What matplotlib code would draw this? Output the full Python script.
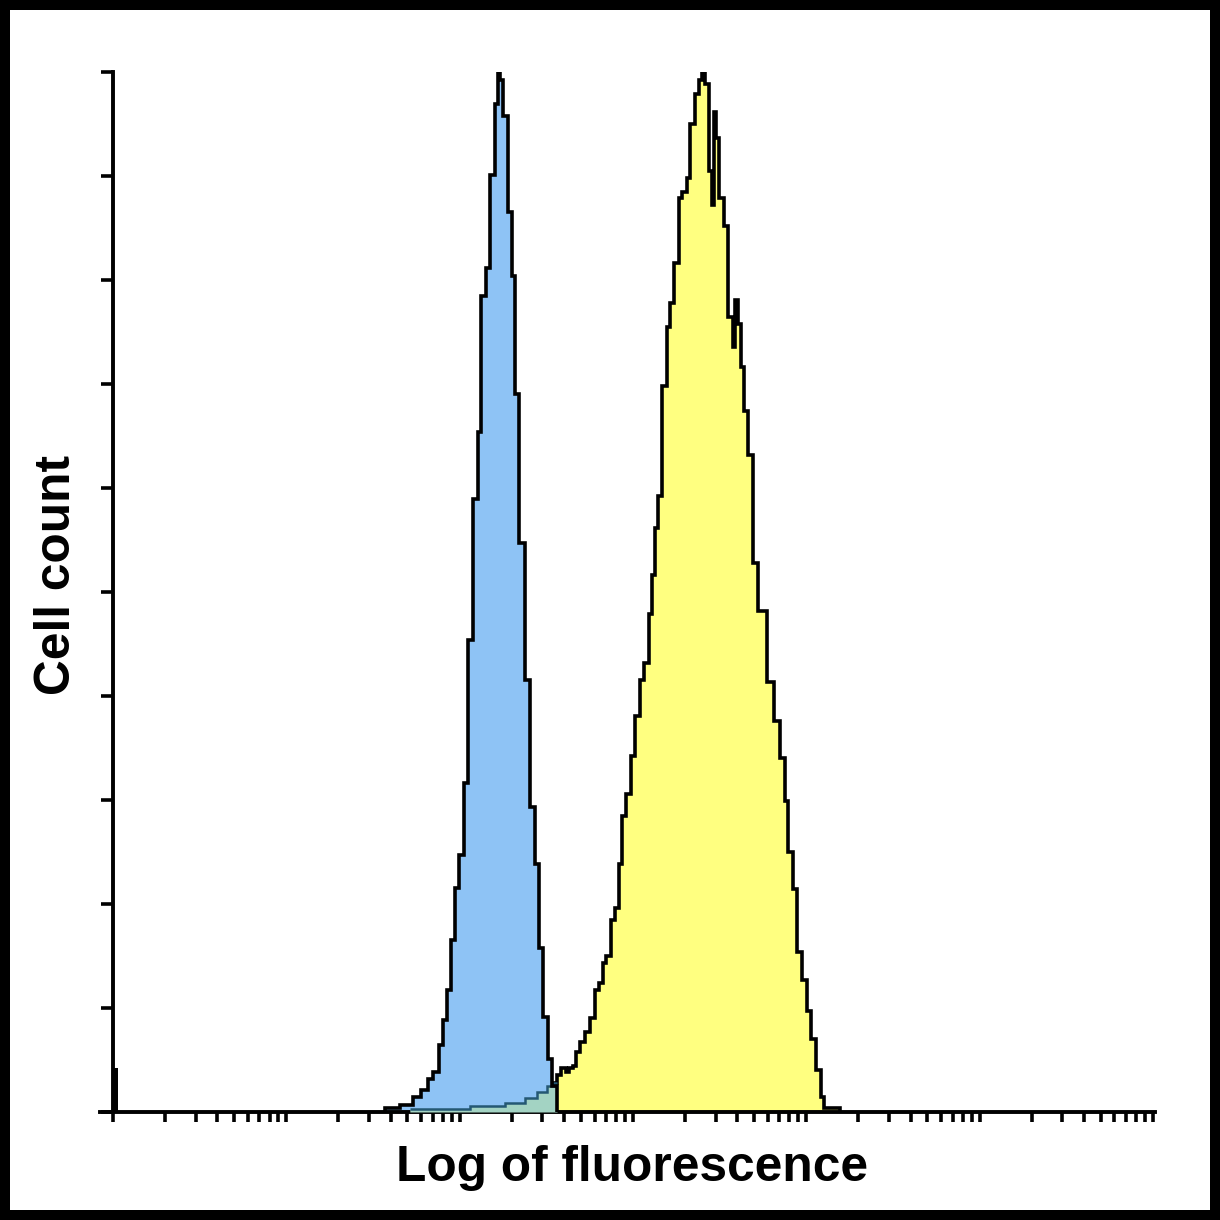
import numpy as np
import matplotlib.pyplot as plt
from matplotlib.patches import Rectangle
from matplotlib.ticker import FixedLocator, NullFormatter

# histogram data: bin edges in log10(fluorescence), counts scaled so the highest bin = 100
blue_log_edges = [1.569, 1.656, 1.731, 1.777, 1.817, 1.846, 1.881, 1.904, 1.927, 1.950,
                  1.973, 1.996, 2.025, 2.048, 2.077, 2.106, 2.123, 2.152, 2.175, 2.204,
                  2.221, 2.233, 2.250, 2.279, 2.302, 2.319, 2.342, 2.377, 2.406, 2.435,
                  2.458, 2.481, 2.510, 2.533, 2.562]
blue_counts = [0.4, 0.7, 1.4, 2.1, 3.2, 3.8, 6.4, 8.8, 11.7, 16.5,
               21.5, 24.7, 31.6, 45.4, 58.9, 65.4, 78.5, 81.2, 90.1, 96.9,
               100, 99.2, 95.8, 86.5, 80.4, 69.0, 54.7, 41.5, 29.3, 23.8,
               15.8, 9.1, 5.1, 2.5]

yellow_log_edges = [1.713, 2.060, 2.262, 2.377, 2.446, 2.504, 2.544, 2.562, 2.585, 2.614,
                    2.631, 2.654, 2.671, 2.694, 2.723, 2.752, 2.781, 2.804, 2.827, 2.844,
                    2.873, 2.896, 2.919, 2.937, 2.960, 2.989, 3.012, 3.040, 3.063, 3.092,
                    3.110, 3.127, 3.144, 3.167, 3.196, 3.214, 3.237, 3.265, 3.283, 3.312,
                    3.329, 3.358, 3.381, 3.398, 3.415, 3.439, 3.456, 3.467, 3.479, 3.496,
                    3.525, 3.548, 3.577, 3.589, 3.606, 3.623, 3.640, 3.663, 3.692, 3.721,
                    3.773, 3.814, 3.848, 3.877, 3.894, 3.923, 3.946, 3.975, 4.004, 4.027,
                    4.056, 4.085, 4.102, 4.194]
yellow_counts = [0.3, 0.6, 0.9, 1.3, 1.9, 2.5, 2.8, 3.6, 4.2, 3.8,
                 4.2, 4.4, 5.8, 6.7, 7.7, 9.0, 11.7, 12.4, 14.3, 15.0,
                 18.5, 19.6, 23.8, 28.5, 30.6, 34.2, 38.1, 41.5, 43.2, 47.9,
                 51.6, 56.2, 59.2, 69.8, 75.5, 77.8, 81.6, 87.9, 88.5, 89.8,
                 95.0, 97.9, 99.2, 100, 98.8, 90.5, 87.2, 96.2, 93.7, 87.9,
                 85.2, 76.4, 73.6, 78.1, 75.8, 71.6, 67.4, 63.2, 52.8, 48.2,
                 41.3, 37.6, 34.0, 29.9, 25.0, 21.4, 15.4, 12.7, 9.7, 7.0,
                 4.0, 1.4, 0.4]

# pile-up in the first channel
spike_log_edges = [0.0, 0.03]
spike_counts = [4.2]

decades = np.arange(0, 7)

blue_edges = 10 ** np.array(blue_log_edges)
yellow_edges = 10 ** np.array(yellow_log_edges)
spike_edges = 10 ** np.array(spike_log_edges)

fig = plt.figure(figsize=(12.2, 12.2), dpi=100)
ax = fig.add_axes([100 / 1220, 108 / 1220, 1055 / 1220, 1040 / 1220])

lw = 2.6
ax.stairs(yellow_counts, yellow_edges, fill=True, color='#FFFF80', zorder=1)
ax.stairs(yellow_counts, yellow_edges, color='black', lw=lw, zorder=1.5)
ax.stairs(blue_counts, blue_edges, fill=True, color='#8EC3F5', zorder=2)

# where the two histograms overlap
grid = np.linspace(blue_log_edges[0], blue_log_edges[-1], 2000)
bi = np.clip(np.searchsorted(blue_log_edges, grid, side='right') - 1, 0, len(blue_counts) - 1)
yi = np.searchsorted(yellow_log_edges, grid, side='right') - 1
yv = np.where((yi >= 0) & (yi < len(yellow_counts)),
              np.array(yellow_counts)[np.clip(yi, 0, len(yellow_counts) - 1)], 0)
overlap = np.minimum(np.array(blue_counts)[bi], yv)
ax.fill_between(10 ** grid, 0, overlap, color='#A3D3C3', lw=0, zorder=3)
ax.stairs(yellow_counts[:7], yellow_edges[:8], color='#245873', lw=1.8, zorder=3.5,
          baseline=None)

ax.stairs(blue_counts, blue_edges, color='black', lw=lw, zorder=4)
ax.stairs(spike_counts, spike_edges, fill=True, color='black', zorder=4)

ax.set_xscale('log')
ax.set_xlim(10 ** (-0.075), 10 ** 6.012)
ax.set_ylim(0, 100)
ax.set_yticks(np.arange(0, 101, 10))
major = 10.0 ** decades
minor = [m * 10.0 ** d for d in decades[:-1] for m in range(2, 10)]
ax.xaxis.set_major_locator(FixedLocator(major))
ax.xaxis.set_minor_locator(FixedLocator(minor))
ax.xaxis.set_minor_formatter(NullFormatter())
ax.tick_params(labelbottom=False, labelleft=False)
ax.tick_params(axis='x', which='both', direction='out', length=7.5, width=2.6)
ax.tick_params(axis='y', direction='out', length=9, width=2.6)

ax.spines['top'].set_visible(False)
ax.spines['right'].set_visible(False)
ax.spines['left'].set_position(('data', 1))
ax.spines['left'].set_linewidth(2.8)
ax.spines['bottom'].set_linewidth(2.8)
ax.patch.set_alpha(0)

fig.text(57 / 1220, 1 - 575 / 1220, 'Cell count', rotation=90, ha='center', va='center',
         fontsize=35.7, fontweight='bold', family='Liberation Sans')
fig.text(632 / 1220, 1 - 1168 / 1220, 'Log of fluorescence', ha='center', va='center',
         fontsize=35.7, fontweight='bold', family='Liberation Sans')

fig.add_artist(Rectangle((0, 0), 1, 1, transform=fig.transFigure, fill=False,
                         lw=14.4, edgecolor='black'))

fig.savefig('out.png', dpi=100)
